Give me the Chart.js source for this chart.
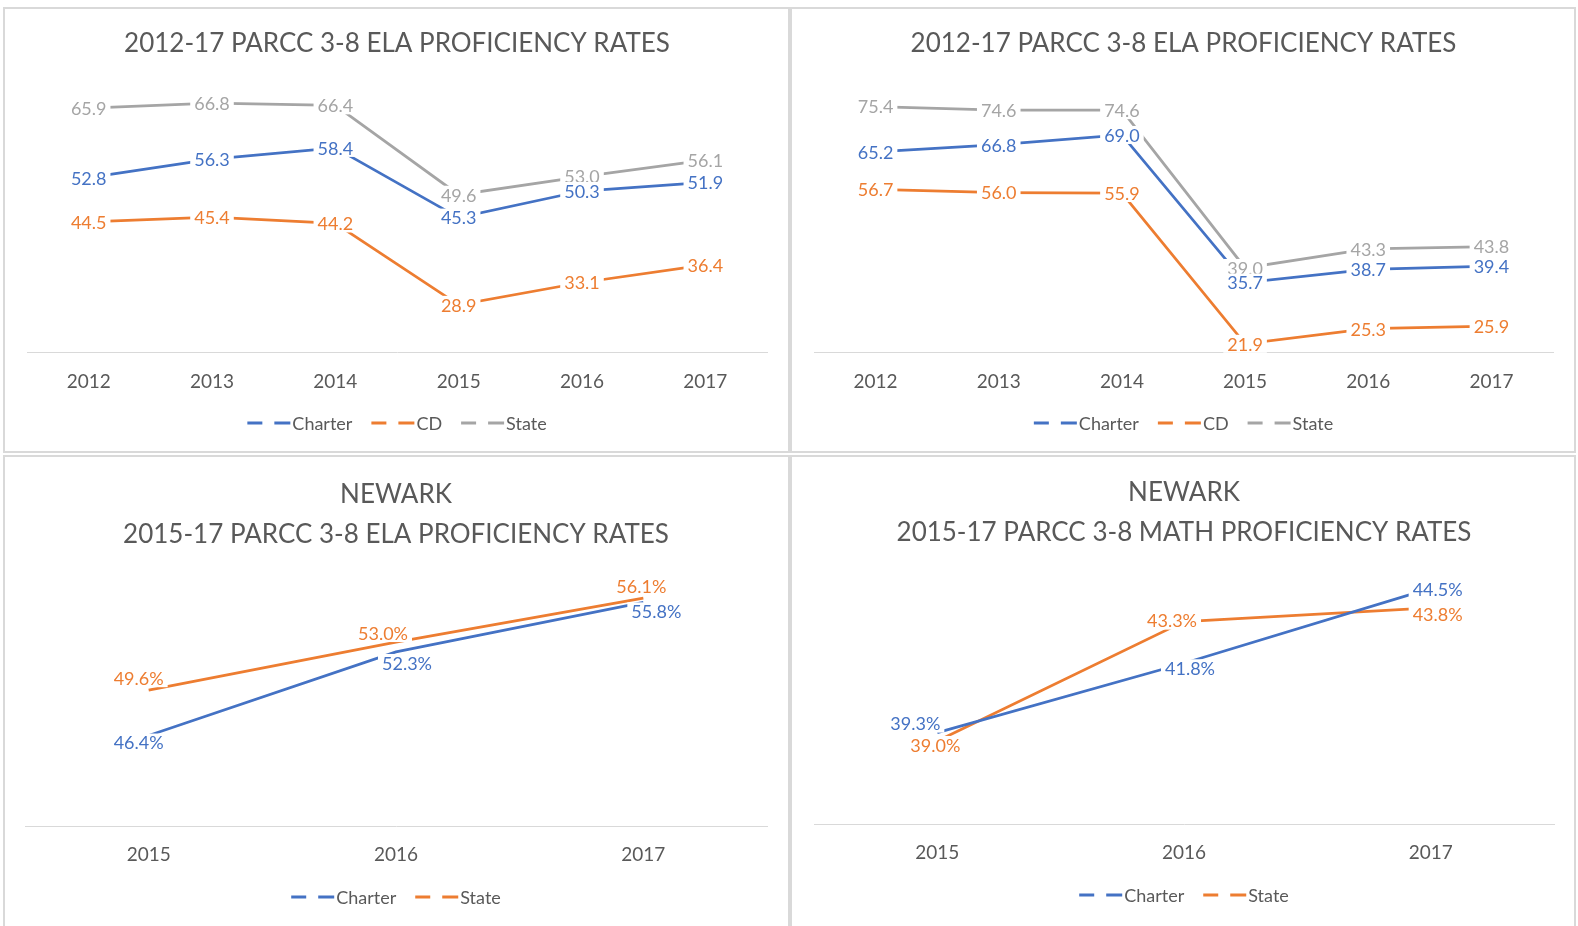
<!DOCTYPE html>
<html>
<head>
<meta charset="utf-8">
<script src="https://cdn.jsdelivr.net/npm/chart.js@4.4.1/dist/chart.umd.min.js"></script>
<style>
  html, body { margin: 0; padding: 0; background: #fff; width: 1578px; height: 926px; overflow: hidden; }
  .panel { position: absolute; border: 2px solid #d9d9d9; }
  .panel canvas { display: block; }
</style>
</head>
<body>
<div class="panel" style="left:3px;top:7px;width:783px;height:442px"><canvas id="c1"></canvas></div>
<div class="panel" style="left:790px;top:7px;width:782px;height:442px"><canvas id="c2"></canvas></div>
<div class="panel" style="left:3px;top:455px;width:783px;height:469px;border-bottom:none"><canvas id="c3"></canvas></div>
<div class="panel" style="left:790px;top:455px;width:782px;height:469px;border-bottom:none"><canvas id="c4"></canvas></div>

<script>
// --- data -----------------------------------------------------------
const years = ['2012', '2013', '2014', '2015', '2016', '2017'];
const newarkYears = ['2015', '2016', '2017'];

// top left
const elaCharter = [52.8, 56.3, 58.4, 45.3, 50.3, 51.9];
const elaCD = [44.5, 45.4, 44.2, 28.9, 33.1, 36.4];
const elaState = [65.9, 66.8, 66.4, 49.6, 53.0, 56.1];

// top right
const ela2Charter = [65.2, 66.8, 69.0, 35.7, 38.7, 39.4];
const ela2CD = [56.7, 56.0, 55.9, 21.9, 25.3, 25.9];
const ela2State = [75.4, 74.6, 74.6, 39.0, 43.3, 43.8];

// bottom left (Newark ELA)
const newarkElaCharter = [46.4, 52.3, 55.8];
const newarkElaState = [49.6, 53.0, 56.1];

// bottom right (Newark math)
const newarkMathCharter = [39.3, 41.8, 44.5];
const newarkMathState = [39.0, 43.3, 43.8];

// --- style ----------------------------------------------------------
const BLUE = '#4472C4';
const ORANGE = '#ED7D31';
const GRAY = '#A5A5A5';
const TEXT = '#595959';
const FONT = 'Lato, "Open Sans", sans-serif';

// data labels with white box (gives the gaps in the lines like excel)
const pointLabels = {
  id: 'pointLabels',
  afterDatasetsDraw(chart, args, opts) {
    const ctx = chart.ctx;
    ctx.save();
    ctx.font = '18px ' + FONT;
    ctx.textAlign = 'center';
    ctx.textBaseline = 'middle';
    const sets = chart.data.datasets;
    for (let i = sets.length - 1; i >= 0; i--) {
      const ds = sets[i];
      const meta = chart.getDatasetMeta(i);
      meta.data.forEach((pt, j) => {
        const text = ds.data[j].toFixed(1) + (opts.suffix || '');
        const off = (opts.offsets && opts.offsets[i]) ? opts.offsets[i][j] : [0, 0];
        const x = pt.x + off[0];
        const y = pt.y + off[1];
        const w = ctx.measureText(text).width;
        ctx.fillStyle = '#fff';
        ctx.fillRect(x - w / 2 - 4, y - 9, w + 8, 18);
        ctx.fillStyle = ds.borderColor;
        ctx.fillText(text, x, y + 1);
      });
    }
    ctx.restore();
  }
};

// excel style legend: "— —Charter"
const dashLegend = {
  id: 'dashLegend',
  afterDraw(chart, args, opts) {
    const ctx = chart.ctx;
    ctx.save();
    ctx.font = '18px ' + FONT;
    ctx.textBaseline = 'middle';
    const sets = chart.data.datasets;
    const markW = 45, gap = 19;
    let total = 0;
    const widths = sets.map(ds => ctx.measureText(ds.label).width);
    widths.forEach(w => { total += markW + w; });
    total += gap * (sets.length - 1);
    let x = (chart.chartArea.left + chart.chartArea.right) / 2 - total / 2;
    const y = opts.y;
    sets.forEach((ds, i) => {
      ctx.strokeStyle = ds.borderColor;
      ctx.lineWidth = 3;
      ctx.beginPath();
      ctx.moveTo(x, y); ctx.lineTo(x + 15, y);
      ctx.moveTo(x + 27, y); ctx.lineTo(x + 43, y);
      ctx.stroke();
      ctx.fillStyle = TEXT;
      ctx.fillText(ds.label, x + markW, y + 1);
      x += markW + widths[i] + gap;
    });
    ctx.restore();
  }
};

function line(label, data, color) {
  return {
    label, data,
    borderColor: color,
    backgroundColor: color,
    borderWidth: 2.75,
    pointRadius: 0,
    tension: 0
  };
}

function makeChart(id, o) {
  return new Chart(document.getElementById(id), {
    type: 'line',
    data: { labels: o.labels, datasets: o.datasets },
    plugins: [pointLabels, dashLegend],
    options: {
      responsive: true,
      maintainAspectRatio: false,
      animation: false,
      layout: { padding: o.padding },
      plugins: {
        legend: { display: false },
        tooltip: { enabled: false },
        title: {
          display: true,
          text: o.title,
          color: TEXT,
          font: { family: FONT, size: 26, weight: 'normal', lineHeight: o.titleLH },
          padding: o.titlePad
        },
        pointLabels: { suffix: o.suffix, offsets: o.offsets },
        dashLegend: { y: o.legendY }
      },
      scales: {
        x: {
          offset: true,
          grid: { display: false, drawTicks: false },
          border: { display: true, color: '#d9d9d9', width: 1 },
          ticks: { color: TEXT, padding: o.tickPad, font: { family: FONT, size: 19 } }
        },
        y: { display: false, min: o.min, max: o.max }
      }
    }
  });
}

makeChart('c1', {
  labels: years,
  title: '2012-17 PARCC 3-8 ELA PROFICIENCY RATES',
  titleLH: 1.2,
  titlePad: { top: 19, bottom: 27 },
  tickPad: 18,
  padding: { left: 22, right: 21, top: 0, bottom: 40 },
  legendY: 414,
  min: 20, max: 70,
  datasets: [line('Charter', elaCharter, BLUE), line('CD', elaCD, ORANGE), line('State', elaState, GRAY)]
});

makeChart('c2', {
  labels: years,
  title: '2012-17 PARCC 3-8 ELA PROFICIENCY RATES',
  titleLH: 1.2,
  titlePad: { top: 19, bottom: 27 },
  tickPad: 18,
  padding: { left: 22, right: 21, top: 0, bottom: 40 },
  legendY: 414,
  min: 20, max: 80,
  datasets: [line('Charter', ela2Charter, BLUE), line('CD', ela2CD, ORANGE), line('State', ela2State, GRAY)]
});

makeChart('c3', {
  labels: newarkYears,
  title: ['NEWARK', '2015-17 PARCC 3-8 ELA PROFICIENCY RATES'],
  titleLH: 1.52,
  titlePad: { top: 18, bottom: 3 },
  tickPad: 17,
  padding: { left: 20, right: 21, top: 0, bottom: 43 },
  legendY: 440,
  suffix: '%',
  min: 40, max: 59,
  offsets: [
    [[-10, 7], [11, 11], [13, 9]],
    [[-10, -12], [-13, -9], [-2, -12]]
  ],
  datasets: [line('Charter', newarkElaCharter, BLUE), line('State', newarkElaState, ORANGE)]
});

makeChart('c4', {
  labels: newarkYears,
  title: ['NEWARK', '2015-17 PARCC 3-8 MATH PROFICIENCY RATES'],
  titleLH: 1.52,
  titlePad: { top: 16, bottom: 3 },
  tickPad: 17,
  padding: { left: 22, right: 20, top: 0, bottom: 45 },
  legendY: 438,
  suffix: '%',
  min: 36, max: 45.7,
  offsets: [
    [[-22, -9], [6, 5], [7, 1]],
    [[-2, 4], [-12, -1], [7, 6]]
  ],
  datasets: [line('Charter', newarkMathCharter, BLUE), line('State', newarkMathState, ORANGE)]
});
</script>
</body>
</html>
